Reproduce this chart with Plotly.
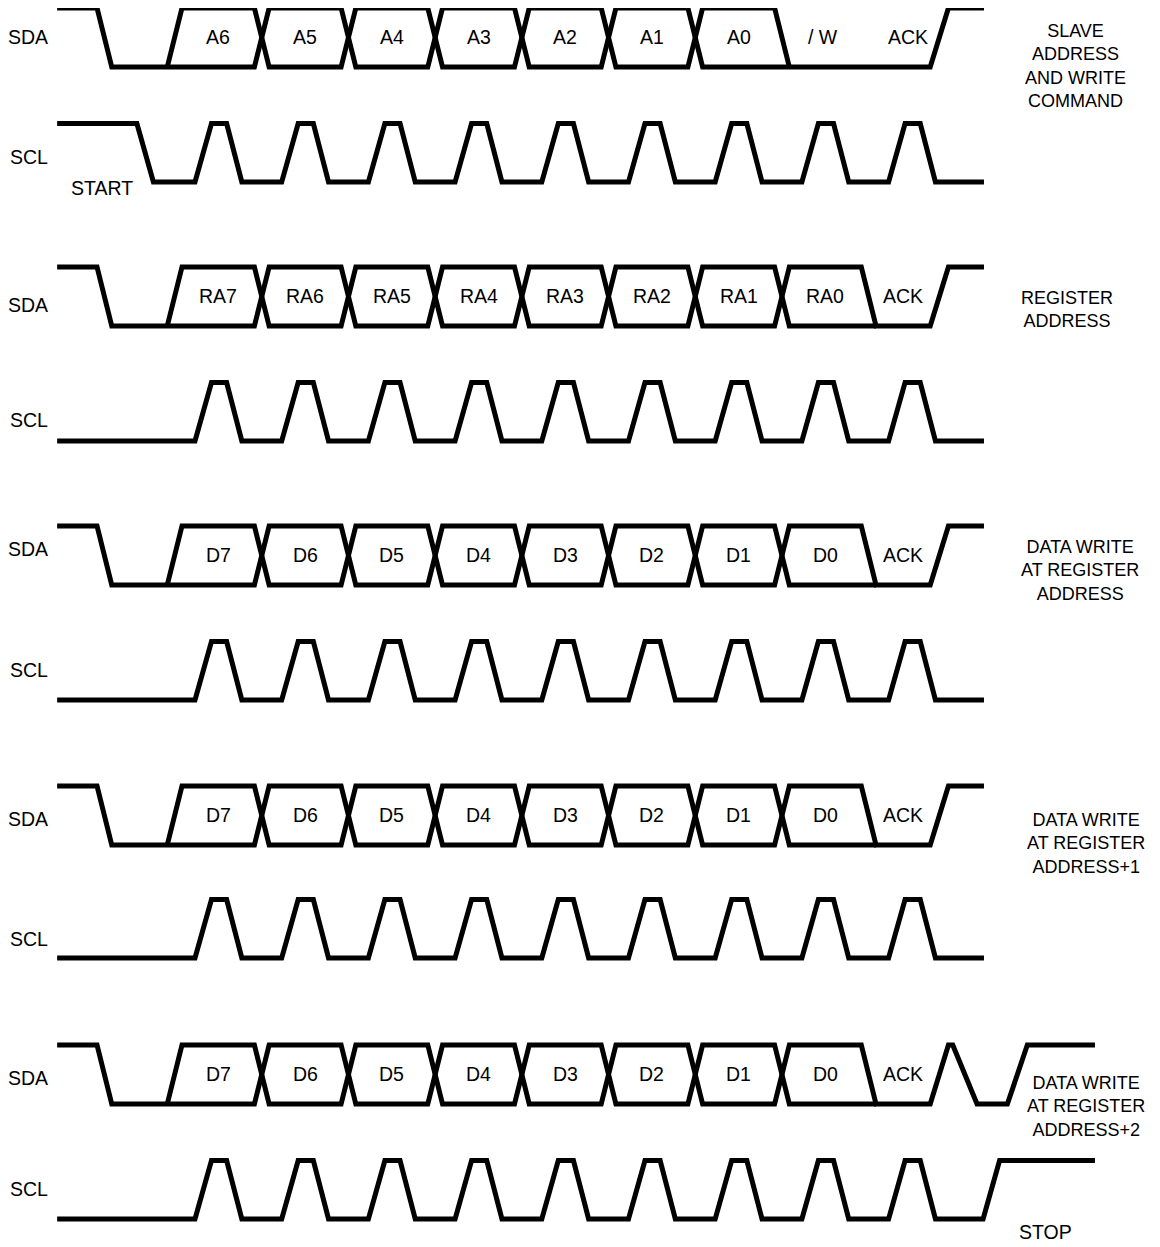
import plotly.graph_objects as go

# ---------------- data ----------------
ROW_TITLES = [
    "SLAVE<br>ADDRESS<br>AND WRITE<br>COMMAND",
    "REGISTER<br>ADDRESS",
    "DATA WRITE<br>AT REGISTER<br>ADDRESS",
    "DATA WRITE<br>AT REGISTER<br>ADDRESS+1",
    "DATA WRITE<br>AT REGISTER<br>ADDRESS+2",
]
BIT_LABELS = [
    ["A6", "A5", "A4", "A3", "A2", "A1", "A0", "/ W", "ACK"],
    ["RA7", "RA6", "RA5", "RA4", "RA3", "RA2", "RA1", "RA0", "ACK"],
    ["D7", "D6", "D5", "D4", "D3", "D2", "D1", "D0", "ACK"],
    ["D7", "D6", "D5", "D4", "D3", "D2", "D1", "D0", "ACK"],
    ["D7", "D6", "D5", "D4", "D3", "D2", "D1", "D0", "ACK"],
]
# number of bits driven on the bus (with X transitions) per row
BUS_BITS = [7, 8, 8, 8, 8]
# SCL clock pulses per row
SCL_PULSES = [9, 9, 9, 9, 9]
# time of the diagram start / end (in clock periods)
T_START = -1.59
T_END = [9.1, 9.1, 9.1, 9.1, 10.38]
# SDA edges after the ACK: (t_begin, t_end, new_level)
SDA_TAIL = [
    [(8.48, 8.69, 1)],
    [(8.48, 8.69, 1)],
    [(8.48, 8.69, 1)],
    [(8.48, 8.69, 1)],
    [(8.48, 8.69, 1), (8.74, 9.02, 0), (9.37, 9.60, 1)],
]
# SCL initial level and extra edges before / after pulses
SCL_INIT = [1, 0, 0, 0, 0]
SCL_PRE = [[(-0.67, -0.48, 0)], [], [], [], []]
SCL_POST = [[], [], [], [], [(9.09, 9.28, 1)]]

# ---------------- layout / style constants ----------------
W, H = 1160, 1247
OFF = 8                      # page body margin of the html page
X0, P = 195.0, 86.7          # pixel of t=0 and pixels per clock period
SDA_LOW = [67, 326, 585, 845, 1104]
SDA_AMP = 59
SCL_LOW = [182, 441, 700, 958, 1219]
SCL_AMP = 58.5
SDA_LBL_Y = [37, 305, 549, 819, 1078]
SCL_LBL_Y = [157, 420, 670, 939, 1189]
TITLE_X = [1075, 1067, 1080, 1086, 1086]
TITLE_Y = [65.5, 309.5, 570, 843, 1106]
FONT = "Arial, 'Liberation Sans', sans-serif"
FS = 19.5
FS_TITLE = 18
LW = 5

# timing shape constants (fractions of a period)
RISE_A, RISE_B = 0.0, 0.19       # SCL rise within period
FALL_A, FALL_B = 0.365, 0.54     # SCL fall
X_A, X_B = 0.685, 0.855          # SDA transition window
START_A, START_B = -1.13, -0.96  # START fall of SDA
BUS_A, BUS_B = -0.32, -0.15      # first data rise


def t_of(px):
    return (px - X0) / P


def wave(t0, lvl0, edges, t1):
    pts = [(t0, lvl0)]
    lvl = lvl0
    for a, b, new in edges:
        pts.append((a, lvl))
        pts.append((b, new))
        lvl = new
    pts.append((t1, lvl))
    return pts


def add_path(xs, ys, pts, low, amp):
    for t, l in pts:
        xs.append(t)
        ys.append(low - l * amp)
    xs.append(None)
    ys.append(None)


fig = go.Figure()
annotations = []


def txt(x, y, s, size=FS, **kw):
    annotations.append(dict(x=x, y=y, text=s, showarrow=False,
                            xanchor="center", yanchor="middle",
                            font=dict(family=FONT, size=size, color="black"), **kw))


for r in range(5):
    xs, ys = [], []
    n = BUS_BITS[r]
    # SDA: two zig-zag polylines form the bus with X crossings
    A = [(T_START, 1), (START_A, 1), (START_B, 0), (BUS_A, 0)]
    B = [(BUS_A, 0), (BUS_B, 1)]
    la, lb = 0, 1
    for k in range(n - 1):
        A += [(k + X_A, la), (k + X_B, 1 - la)]
        B += [(k + X_A, lb), (k + X_B, 1 - lb)]
        la, lb = 1 - la, 1 - lb
    A += [(n - 1 + X_A, la), (n - 1 + X_B, 0)]
    B += [(n - 1 + X_A, lb), (n - 1 + X_B, 0)]
    tail = wave(n - 1 + X_B, 0, SDA_TAIL[r], T_END[r])
    A += tail[1:]
    add_path(xs, ys, A, SDA_LOW[r], SDA_AMP)
    add_path(xs, ys, B, SDA_LOW[r], SDA_AMP)

    # SCL
    edges = list(SCL_PRE[r])
    for k in range(SCL_PULSES[r]):
        edges += [(k + RISE_A, k + RISE_B, 1), (k + FALL_A, k + FALL_B, 0)]
    edges += SCL_POST[r]
    add_path(xs, ys, wave(T_START, SCL_INIT[r], edges, T_END[r]), SCL_LOW[r], SCL_AMP)

    fig.add_trace(go.Scatter(x=xs, y=ys, mode="lines",
                             line=dict(color="black", width=LW),
                             hoverinfo="skip", showlegend=False, connectgaps=False))

    # bit labels
    mid = SDA_LOW[r] - SDA_AMP / 2 - 1
    for k, lab in enumerate(BIT_LABELS[r]):
        tx = k + 0.27
        if lab == "ACK":
            tx -= 0.1 if r > 0 else 0.05
        if lab == "/ W":
            tx -= 0.03
        txt(tx, mid, lab)
    # signal names
    txt(t_of(28), SDA_LBL_Y[r], "SDA")
    txt(t_of(29), SCL_LBL_Y[r], "SCL")
    txt(t_of(TITLE_X[r]), TITLE_Y[r], ROW_TITLES[r], size=FS_TITLE, align="center")

txt(t_of(102), 188, "START")
txt(t_of(1045), 1232, "STOP")

fig.update_layout(
    width=W - OFF, height=H - OFF,
    margin=dict(l=0, r=0, t=0, b=0),
    paper_bgcolor="white", plot_bgcolor="white",
    xaxis=dict(range=[t_of(OFF), t_of(W)], visible=False, fixedrange=True),
    yaxis=dict(range=[H, OFF], visible=False, fixedrange=True),
    annotations=annotations,
)
fig.write_html("out.html", config={"displayModeBar": False})
